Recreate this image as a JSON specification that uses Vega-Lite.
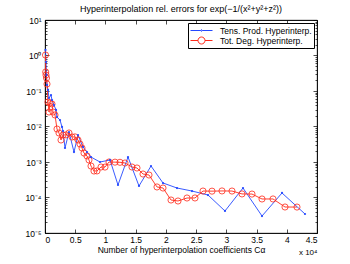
{
  "$schema": "https://vega.github.io/schema/vega-lite/v6.json",
  "width": 272,
  "height": 213,
  "autosize": {"type": "none"},
  "padding": {"left": 45, "top": 20, "right": 33, "bottom": 31},
  "background": "white",
  "config": {
    "font": "Liberation Sans",
    "view": {"stroke": "black", "strokeWidth": 0.8},
    "axis": {"grid": false, "domainColor": "black", "domainWidth": 0.8, "tickColor": "black", "tickWidth": 0.7, "labelColor": "black", "titleColor": "black", "labelFontSize": 8.5, "titleFontSize": 8.5, "titleFontWeight": "normal", "labelFont": "Liberation Sans", "titleFont": "Liberation Sans"}
  },
  "title": {"text": "Hyperinterpolation rel. errors for exp(−1/(x²+y²+z²))", "fontSize": 9, "fontWeight": "normal", "color": "black", "offset": 2, "font": "Liberation Sans"},
  "data": {"values": [
    {"series": "Tens. Prod. Hyperinterp.", "x": 0.0083, "err": 1.43},
    {"series": "Tens. Prod. Hyperinterp.", "x": 0.0165, "err": 0.656},
    {"series": "Tens. Prod. Hyperinterp.", "x": 0.0248, "err": 0.282},
    {"series": "Tens. Prod. Hyperinterp.", "x": 0.0331, "err": 0.148},
    {"series": "Tens. Prod. Hyperinterp.", "x": 0.0496, "err": 0.107},
    {"series": "Tens. Prod. Hyperinterp.", "x": 0.0662, "err": 0.0635},
    {"series": "Tens. Prod. Hyperinterp.", "x": 0.0993, "err": 0.0771},
    {"series": "Tens. Prod. Hyperinterp.", "x": 0.1158, "err": 0.0558},
    {"series": "Tens. Prod. Hyperinterp.", "x": 0.1489, "err": 0.0403},
    {"series": "Tens. Prod. Hyperinterp.", "x": 0.182, "err": 0.0292},
    {"series": "Tens. Prod. Hyperinterp.", "x": 0.1985, "err": 0.0185},
    {"series": "Tens. Prod. Hyperinterp.", "x": 0.2482, "err": 0.0152},
    {"series": "Tens. Prod. Hyperinterp.", "x": 0.2813, "err": 0.0097},
    {"series": "Tens. Prod. Hyperinterp.", "x": 0.2978, "err": 0.00747},
    {"series": "Tens. Prod. Hyperinterp.", "x": 0.3309, "err": 0.00248},
    {"series": "Tens. Prod. Hyperinterp.", "x": 0.3971, "err": 0.007},
    {"series": "Tens. Prod. Hyperinterp.", "x": 0.4798, "err": 0.00191},
    {"series": "Tens. Prod. Hyperinterp.", "x": 0.546, "err": 0.00576},
    {"series": "Tens. Prod. Hyperinterp.", "x": 0.6287, "err": 0.00265},
    {"series": "Tens. Prod. Hyperinterp.", "x": 0.6948, "err": 0.00191},
    {"series": "Tens. Prod. Hyperinterp.", "x": 0.761, "err": 0.00138},
    {"series": "Tens. Prod. Hyperinterp.", "x": 0.9099, "err": 0.001},
    {"series": "Tens. Prod. Hyperinterp.", "x": 1.0754, "err": 0.00114},
    {"series": "Tens. Prod. Hyperinterp.", "x": 1.2077, "err": 0.000225},
    {"series": "Tens. Prod. Hyperinterp.", "x": 1.3732, "err": 0.00138},
    {"series": "Tens. Prod. Hyperinterp.", "x": 1.5551, "err": 0.000211},
    {"series": "Tens. Prod. Hyperinterp.", "x": 1.7537, "err": 0.00077},
    {"series": "Tens. Prod. Hyperinterp.", "x": 1.9522, "err": 0.000256},
    {"series": "Tens. Prod. Hyperinterp.", "x": 2.1838, "err": 0.000185},
    {"series": "Tens. Prod. Hyperinterp.", "x": 2.432, "err": 0.000152},
    {"series": "Tens. Prod. Hyperinterp.", "x": 2.6967, "err": 0.0001175},
    {"series": "Tens. Prod. Hyperinterp.", "x": 2.9779, "err": 0.0000417},
    {"series": "Tens. Prod. Hyperinterp.", "x": 3.2757, "err": 0.000185},
    {"series": "Tens. Prod. Hyperinterp.", "x": 3.5901, "err": 0.0000301},
    {"series": "Tens. Prod. Hyperinterp.", "x": 3.921, "err": 0.000134},
    {"series": "Tens. Prod. Hyperinterp.", "x": 4.3015, "err": 0.0000343},
    {"series": "Tot. Deg. Hyperinterp.", "x": 0.0083, "err": 1.03},
    {"series": "Tot. Deg. Hyperinterp.", "x": 0.0116, "err": 0.343},
    {"series": "Tot. Deg. Hyperinterp.", "x": 0.0165, "err": 0.282},
    {"series": "Tot. Deg. Hyperinterp.", "x": 0.0248, "err": 0.232},
    {"series": "Tot. Deg. Hyperinterp.", "x": 0.0331, "err": 0.157},
    {"series": "Tot. Deg. Hyperinterp.", "x": 0.0496, "err": 0.049},
    {"series": "Tot. Deg. Hyperinterp.", "x": 0.0662, "err": 0.0256},
    {"series": "Tot. Deg. Hyperinterp.", "x": 0.0827, "err": 0.0459},
    {"series": "Tot. Deg. Hyperinterp.", "x": 0.1158, "err": 0.043},
    {"series": "Tot. Deg. Hyperinterp.", "x": 0.1324, "err": 0.0256},
    {"series": "Tot. Deg. Hyperinterp.", "x": 0.1654, "err": 0.0211},
    {"series": "Tot. Deg. Hyperinterp.", "x": 0.1985, "err": 0.0085},
    {"series": "Tot. Deg. Hyperinterp.", "x": 0.2316, "err": 0.00656},
    {"series": "Tot. Deg. Hyperinterp.", "x": 0.2647, "err": 0.00417},
    {"series": "Tot. Deg. Hyperinterp.", "x": 0.2978, "err": 0.00576},
    {"series": "Tot. Deg. Hyperinterp.", "x": 0.3474, "err": 0.0058},
    {"series": "Tot. Deg. Hyperinterp.", "x": 0.3971, "err": 0.00656},
    {"series": "Tot. Deg. Hyperinterp.", "x": 0.4467, "err": 0.00506},
    {"series": "Tot. Deg. Hyperinterp.", "x": 0.4963, "err": 0.0051},
    {"series": "Tot. Deg. Hyperinterp.", "x": 0.546, "err": 0.00417},
    {"series": "Tot. Deg. Hyperinterp.", "x": 0.579, "err": 0.00321},
    {"series": "Tot. Deg. Hyperinterp.", "x": 0.6121, "err": 0.00248},
    {"series": "Tot. Deg. Hyperinterp.", "x": 0.6452, "err": 0.00179},
    {"series": "Tot. Deg. Hyperinterp.", "x": 0.6948, "err": 0.00148},
    {"series": "Tot. Deg. Hyperinterp.", "x": 0.7279, "err": 0.00114},
    {"series": "Tot. Deg. Hyperinterp.", "x": 0.761, "err": 0.00077},
    {"series": "Tot. Deg. Hyperinterp.", "x": 0.8107, "err": 0.000557},
    {"series": "Tot. Deg. Hyperinterp.", "x": 0.8603, "err": 0.00056},
    {"series": "Tot. Deg. Hyperinterp.", "x": 0.9265, "err": 0.000723},
    {"series": "Tot. Deg. Hyperinterp.", "x": 0.9926, "err": 0.00072},
    {"series": "Tot. Deg. Hyperinterp.", "x": 1.0588, "err": 0.001},
    {"series": "Tot. Deg. Hyperinterp.", "x": 1.1581, "err": 0.00099},
    {"series": "Tot. Deg. Hyperinterp.", "x": 1.2408, "err": 0.00098},
    {"series": "Tot. Deg. Hyperinterp.", "x": 1.3235, "err": 0.000937},
    {"series": "Tot. Deg. Hyperinterp.", "x": 1.4393, "err": 0.000723},
    {"series": "Tot. Deg. Hyperinterp.", "x": 1.522, "err": 0.000678},
    {"series": "Tot. Deg. Hyperinterp.", "x": 1.6213, "err": 0.000459},
    {"series": "Tot. Deg. Hyperinterp.", "x": 1.7206, "err": 0.00043},
    {"series": "Tot. Deg. Hyperinterp.", "x": 1.8529, "err": 0.000198},
    {"series": "Tot. Deg. Hyperinterp.", "x": 1.9522, "err": 0.000185},
    {"series": "Tot. Deg. Hyperinterp.", "x": 2.0846, "err": 0.000085},
    {"series": "Tot. Deg. Hyperinterp.", "x": 2.2004, "err": 0.0000797},
    {"series": "Tot. Deg. Hyperinterp.", "x": 2.3493, "err": 0.0000968},
    {"series": "Tot. Deg. Hyperinterp.", "x": 2.4816, "err": 0.000097},
    {"series": "Tot. Deg. Hyperinterp.", "x": 2.614, "err": 0.000152},
    {"series": "Tot. Deg. Hyperinterp.", "x": 2.7629, "err": 0.000151},
    {"series": "Tot. Deg. Hyperinterp.", "x": 2.9283, "err": 0.000153},
    {"series": "Tot. Deg. Hyperinterp.", "x": 3.0938, "err": 0.000152},
    {"series": "Tot. Deg. Hyperinterp.", "x": 3.2592, "err": 0.000126},
    {"series": "Tot. Deg. Hyperinterp.", "x": 3.4246, "err": 0.000125},
    {"series": "Tot. Deg. Hyperinterp.", "x": 3.5901, "err": 0.0000908},
    {"series": "Tot. Deg. Hyperinterp.", "x": 3.7721, "err": 0.000091},
    {"series": "Tot. Deg. Hyperinterp.", "x": 3.9706, "err": 0.000054},
    {"series": "Tot. Deg. Hyperinterp.", "x": 4.1691, "err": 0.0000538}
  ]},
  "layer": [
    {
      "mark": {"type": "line", "strokeWidth": 0.9, "clip": true},
      "encoding": {
        "x": {"field": "x", "type": "quantitative", "scale": {"domain": [0, 4.5], "nice": false, "zero": false},
          "axis": {"orient": "bottom", "values": [0, 0.5, 1, 1.5, 2, 2.5, 3, 3.5, 4, 4.5], "format": "~g", "tickSize": -4, "labelPadding": 6, "title": "Number of hyperinterpolation coefficients Cα", "titlePadding": 2}},
        "y": {"field": "err", "type": "quantitative", "scale": {"type": "log", "domain": [0.00001, 10], "nice": false},
          "axis": {"orient": "left",
            "values": [0.00001, 0.00002, 0.00003, 0.00004, 0.00005, 0.00006, 0.00007, 0.00008, 0.00009, 0.0001, 0.0002, 0.0003, 0.0004, 0.0005, 0.0006, 0.0007, 0.0008, 0.0009, 0.001, 0.002, 0.003, 0.004, 0.005, 0.006, 0.007, 0.008, 0.009, 0.01, 0.02, 0.03, 0.04, 0.05, 0.06, 0.07, 0.08, 0.09, 0.1, 0.2, 0.3, 0.4, 0.5, 0.6, 0.7, 0.8, 0.9, 1, 2, 3, 4, 5, 6, 7, 8, 9, 10],
            "labelExpr": "abs(log(datum.value)/LN10 - round(log(datum.value)/LN10)) > 0.001 ? '' : ['10⁻⁵','10⁻⁴','10⁻³','10⁻²','10⁻¹','10⁰','10¹'][round(log(datum.value)/LN10)+5]",
            "tickSize": {"condition": {"test": "abs(log(datum.value)/LN10 - round(log(datum.value)/LN10)) < 0.001", "value": -4}, "value": -2},
            "labelPadding": 8, "title": null, "labelFlush": false, "labelOverlap": false}},
        "color": {"field": "series", "type": "nominal",
          "scale": {"domain": ["Tens. Prod. Hyperinterp.", "Tot. Deg. Hyperinterp."], "range": ["#2448ff", "#ff2a1a"]},
          "legend": {"title": null, "orient": "top-right", "offset": 3, "fillColor": "white", "strokeColor": "black", "padding": 2, "cornerRadius": 0,
            "symbolType": "M-2.2,0H2.2", "symbolSize": 100, "symbolStrokeWidth": 1, "symbolOffset": 6, "labelFontSize": 8.5, "labelColor": "black", "labelOffset": 13, "rowPadding": 0, "labelFont": "Liberation Sans",
            "encode": {"symbols": {"update": {"shape": [
              {"test": "datum.value === 'Tot. Deg. Hyperinterp.'", "value": "M-2.2,0H-0.7A0.7,0.7 0 1,1 0.7,0A0.7,0.7 0 1,1 -0.7,0M0.7,0H2.2"},
              {"value": "M-2.2,0H-0.15A0.15,0.15 0 1,1 0.15,0A0.15,0.15 0 1,1 -0.15,0M0.15,0H2.2"}]}}}}}
      }
    },
    {
      "transform": [{"filter": "datum.series == 'Tot. Deg. Hyperinterp.'"}],
      "mark": {"type": "point", "shape": "circle", "filled": false, "color": "#ff2a1a", "size": 38, "strokeWidth": 0.8, "opacity": 1},
      "encoding": {
        "x": {"field": "x", "type": "quantitative", "axis": {"orient": "top", "values": [0, 0.5, 1, 1.5, 2, 2.5, 3, 3.5, 4, 4.5], "labels": false, "tickSize": -4, "title": null}},
        "y": {"field": "err", "type": "quantitative",
          "axis": {"orient": "right",
            "values": [0.00001, 0.00002, 0.00003, 0.00004, 0.00005, 0.00006, 0.00007, 0.00008, 0.00009, 0.0001, 0.0002, 0.0003, 0.0004, 0.0005, 0.0006, 0.0007, 0.0008, 0.0009, 0.001, 0.002, 0.003, 0.004, 0.005, 0.006, 0.007, 0.008, 0.009, 0.01, 0.02, 0.03, 0.04, 0.05, 0.06, 0.07, 0.08, 0.09, 0.1, 0.2, 0.3, 0.4, 0.5, 0.6, 0.7, 0.8, 0.9, 1, 2, 3, 4, 5, 6, 7, 8, 9, 10],
            "labels": false, "title": null,
            "tickSize": {"condition": {"test": "abs(log(datum.value)/LN10 - round(log(datum.value)/LN10)) < 0.001", "value": -4}, "value": -2}}}
      }
    },
    {
      "transform": [{"filter": "datum.series == 'Tens. Prod. Hyperinterp.'"}],
      "mark": {"type": "point", "shape": "circle", "filled": true, "color": "#2448ff", "size": 5, "opacity": 1},
      "encoding": {
        "x": {"field": "x", "type": "quantitative", "axis": {"orient": "bottom", "labels": false, "ticks": false, "domain": false, "title": "x 10⁴", "titleAnchor": "end", "titleFontSize": 8, "offset": 11}},
        "y": {"field": "err", "type": "quantitative", "axis": null}
      }
    }
  ],
  "resolve": {"axis": {"x": "independent", "y": "independent"}}
}
